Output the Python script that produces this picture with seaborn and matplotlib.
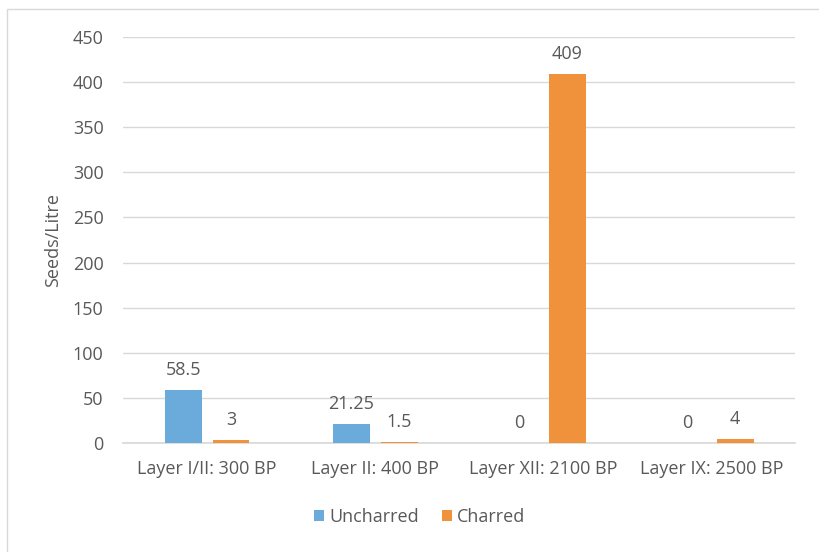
import pandas as pd
import matplotlib.pyplot as plt
import seaborn as sns
from matplotlib.patches import Rectangle

layers = ["Layer I/II: 300 BP", "Layer II: 400 BP", "Layer XII: 2100 BP", "Layer IX: 2500 BP"]
uncharred = [58.5, 21.25, 0, 0]
charred = [3, 1.5, 409, 4]
uncharred_labels = ["58.5", "21.25", "0", "0"]
charred_labels = ["3", "1.5", "409", "4"]

df = pd.DataFrame({
    "Layer": layers * 2,
    "Seeds": uncharred + charred,
    "Type": ["Uncharred"] * 4 + ["Charred"] * 4,
})

sns.set_theme(style="white")
plt.rcParams["font.family"] = ["Open Sans", "DejaVu Sans"]
grey = "#595959"
fs = 13

fig, ax = plt.subplots(figsize=(8.2, 5.52), dpi=100)
fig.subplots_adjust(left=0.15, right=0.97, bottom=0.1975, top=0.933)

sns.barplot(data=df, x="Layer", y="Seeds", hue="Type",
            palette={"Uncharred": "#6AABDC", "Charred": "#F0923B"},
            width=0.57, gap=0.23, saturation=1, linewidth=0, ax=ax, zorder=3)

for cont, labs in zip(ax.containers, [uncharred_labels, charred_labels]):
    ax.bar_label(cont, labels=labs, padding=8, fontsize=fs, color=grey)

ax.set_ylim(0, 450)
ax.set_yticks(range(0, 451, 50))
ax.yaxis.grid(True, color="#D9D9D9", linewidth=1, zorder=0)
ax.set_axisbelow(True)
for s in ["top", "right", "left"]:
    ax.spines[s].set_visible(False)
ax.spines["bottom"].set_color("#D9D9D9")
ax.tick_params(axis="y", length=0, labelsize=fs, labelcolor=grey, pad=14)
ax.tick_params(axis="x", length=0, labelsize=fs, labelcolor=grey, pad=12)
ax.set_xlabel("")
ax.set_ylabel("Seeds/Litre", fontsize=fs, color=grey, labelpad=8)

ax.legend(loc="center", bbox_to_anchor=(0.512, 0.063), bbox_transform=fig.transFigure,
          ncol=2, frameon=False, fontsize=fs, labelcolor=grey,
          handlelength=0.55, handleheight=0.55, handletextpad=0.28, columnspacing=1.27)

fig.patches.append(Rectangle((0.0085, -0.01), 1.0, 0.994, transform=fig.transFigure,
                             fill=False, edgecolor="#D9D9D9", linewidth=1))

fig.savefig("out.png", dpi=100)
